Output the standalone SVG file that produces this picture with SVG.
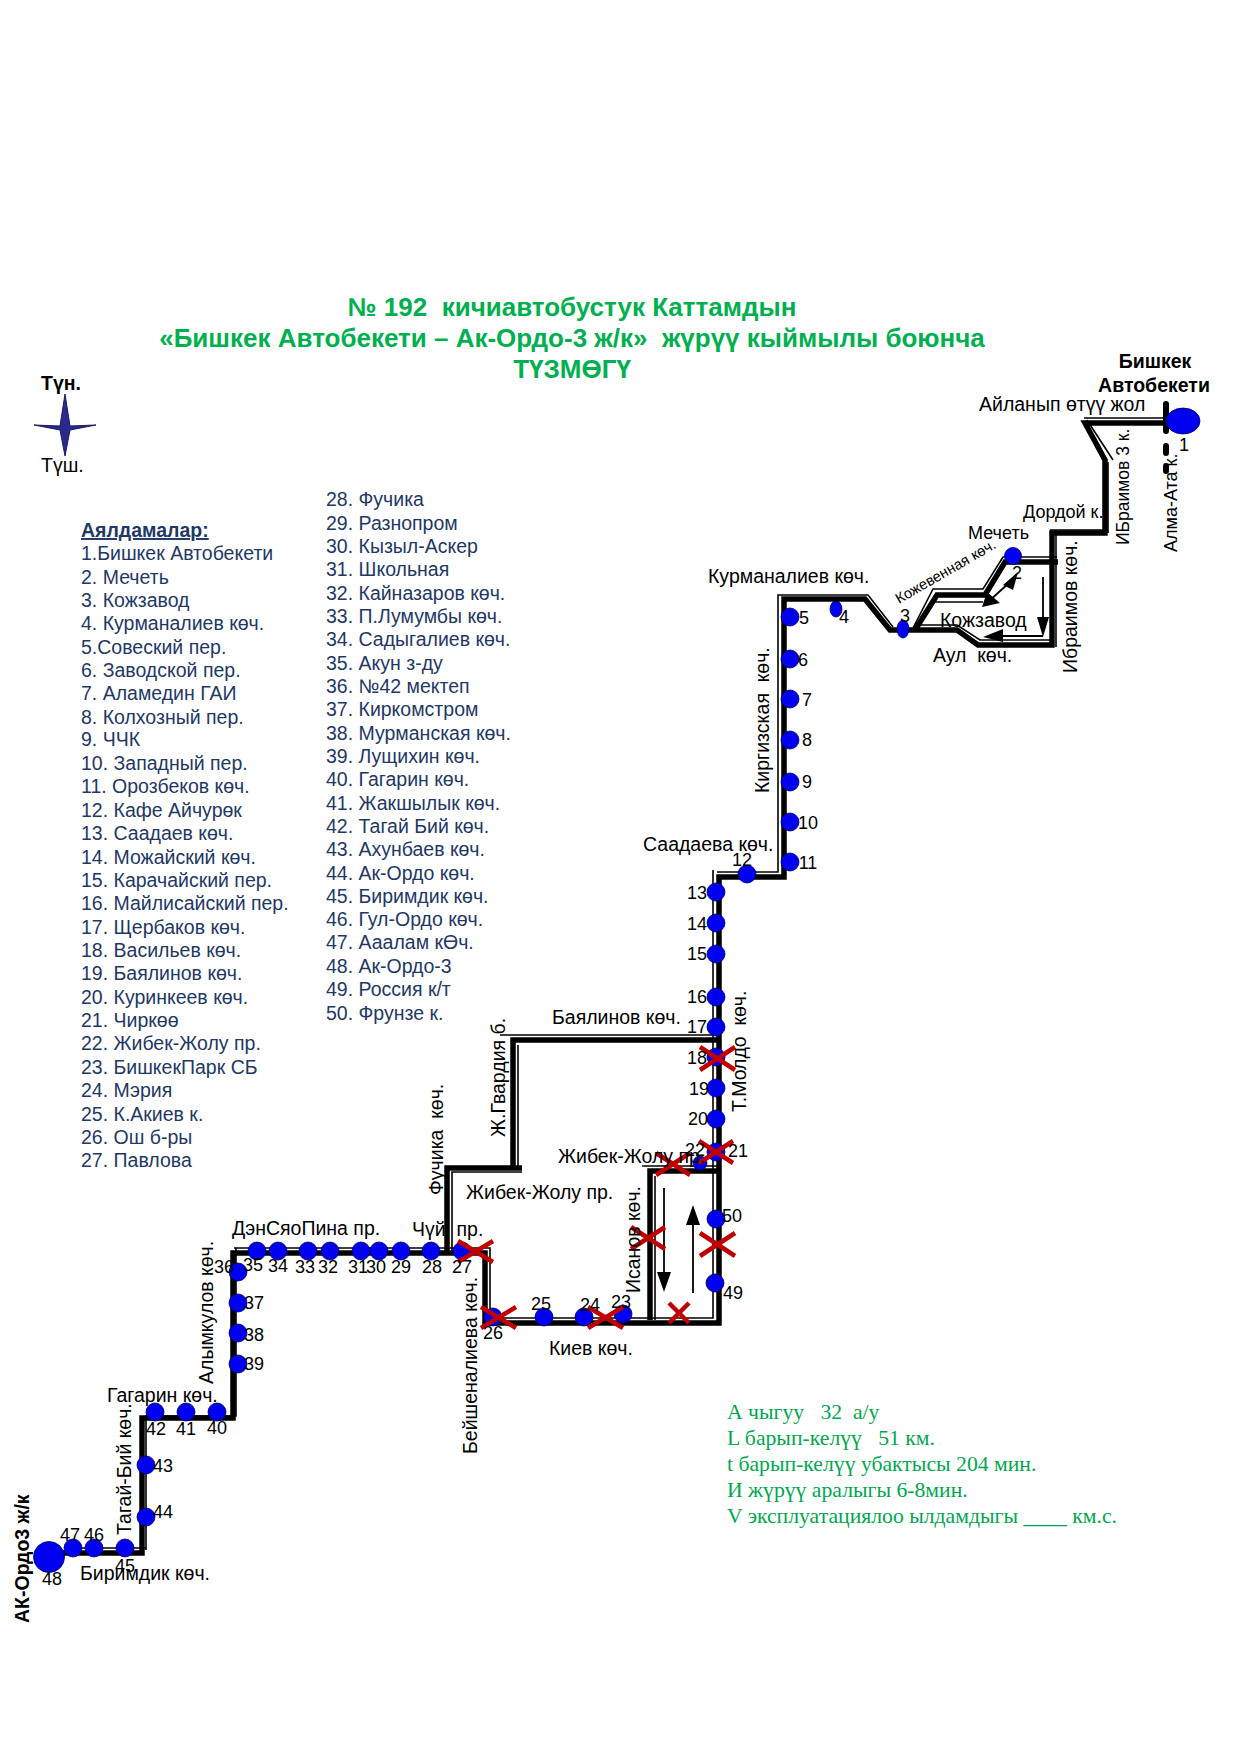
<svg xmlns="http://www.w3.org/2000/svg" width="1241" height="1754" viewBox="0 0 1241 1754">
<style>
text{font-family:"Liberation Sans",Arial,sans-serif;fill:#000;white-space:pre}
.t{font-size:26px;font-weight:bold;fill:#00b050;text-anchor:middle}
.l{font-size:19.5px;fill:#1f3864}
.g{font-family:"Liberation Serif","Times New Roman",serif;font-size:21.7px;fill:#00a651}
.s{font-size:19.5px}
.m{font-size:18px}
.n{font-size:18px;text-anchor:middle}
.b{font-size:19.5px;font-weight:bold}
.k{fill:none;stroke:#000;stroke-width:5.5;stroke-linejoin:miter}
.h{fill:none;stroke:#000;stroke-width:1.6}
.a{fill:none;stroke:#000;stroke-width:1.8}
.x{fill:none;stroke:#c00000;stroke-width:4.5}
.d{fill:#0000f0;stroke:#00005a;stroke-width:.8}
</style>
<g id="title">
<text class="t" x="572" y="316">№ 192  кичиавтобустук Каттамдын</text>
<text class="t" x="572" y="347">«Бишкек Автобекети – Ак-Ордо-3 ж/к»  жүрүү кыймылы боюнча</text>
<text class="t" x="572" y="378">ТҮЗМӨГҮ</text>
</g>
<g id="compass">
<path d="M65 394L70 426L96 425L70 430L65 456L60 430L34 425L60 426Z" fill="#2a2a8c" stroke="#1a1a60"/>
<text class="b" x="41" y="390">Түн.</text>
<text class="s" x="41" y="472">Түш.</text>
</g>
<g id="legend">
<text class="l" x="81" y="537" font-weight="bold" text-decoration="underline">Аялдамалар:</text>
<text class="l" x="81" y="560">1.Бишкек Автобекети</text>
<text class="l" x="81" y="584">2. Мечеть</text>
<text class="l" x="81" y="607">3. Кожзавод</text>
<text class="l" x="81" y="630">4. Курманалиев көч.</text>
<text class="l" x="81" y="654">5.Совеский пер.</text>
<text class="l" x="81" y="677">6. Заводской пер.</text>
<text class="l" x="81" y="700">7. Аламедин ГАИ</text>
<text class="l" x="81" y="724">8. Колхозный пер.</text>
<text class="l" x="81" y="746">9. ЧЧК</text>
<text class="l" x="81" y="770">10. Западный пер.</text>
<text class="l" x="81" y="793">11. Орозбеков көч.</text>
<text class="l" x="81" y="817">12. Кафе Айчурөк</text>
<text class="l" x="81" y="840">13. Саадаев көч.</text>
<text class="l" x="81" y="864">14. Можайский көч.</text>
<text class="l" x="81" y="887">15. Карачайский пер.</text>
<text class="l" x="81" y="910">16. Майлисайский пер.</text>
<text class="l" x="81" y="934">17. Щербаков көч.</text>
<text class="l" x="81" y="957">18. Васильев көч.</text>
<text class="l" x="81" y="980">19. Баялинов көч.</text>
<text class="l" x="81" y="1004">20. Куринкеев көч.</text>
<text class="l" x="81" y="1027">21. Чиркөө</text>
<text class="l" x="81" y="1050">22. Жибек-Жолу пр.</text>
<text class="l" x="81" y="1074">23. БишкекПарк СБ</text>
<text class="l" x="81" y="1097">24. Мэрия</text>
<text class="l" x="81" y="1121">25. К.Акиев к.</text>
<text class="l" x="81" y="1144">26. Ош б-ры</text>
<text class="l" x="81" y="1167">27. Павлова</text>
<text class="l" x="326" y="506">28. Фучика</text>
<text class="l" x="326" y="530">29. Разнопром</text>
<text class="l" x="326" y="553">30. Кызыл-Аскер</text>
<text class="l" x="326" y="576">31. Школьная</text>
<text class="l" x="326" y="600">32. Кайназаров көч.</text>
<text class="l" x="326" y="623">33. П.Лумумбы көч.</text>
<text class="l" x="326" y="646">34. Садыгалиев көч.</text>
<text class="l" x="326" y="670">35. Акун з-ду</text>
<text class="l" x="326" y="693">36. №42 мектеп</text>
<text class="l" x="326" y="716">37. Киркомстром</text>
<text class="l" x="326" y="740">38. Мурманская көч.</text>
<text class="l" x="326" y="763">39. Лущихин көч.</text>
<text class="l" x="326" y="786">40. Гагарин көч.</text>
<text class="l" x="326" y="810">41. Жакшылык көч.</text>
<text class="l" x="326" y="833">42. Тагай Бий көч.</text>
<text class="l" x="326" y="856">43. Ахунбаев көч.</text>
<text class="l" x="326" y="880">44. Ак-Ордо көч.</text>
<text class="l" x="326" y="903">45. Биримдик көч.</text>
<text class="l" x="326" y="926">46. Гул-Ордо көч.</text>
<text class="l" x="326" y="949">47. Ааалам кӨч.</text>
<text class="l" x="326" y="973">48. Ак-Ордо-3</text>
<text class="l" x="326" y="996">49. Россия к/т</text>
<text class="l" x="326" y="1020">50. Фрунзе к.</text>
</g>
<g id="stats">
<text class="g" x="727" y="1419">А чыгуу   32  а/у</text>
<text class="g" x="727" y="1445">L барып-келүү   51 км.</text>
<text class="g" x="727" y="1471">t барып-келүү убактысы 204 мин.</text>
<text class="g" x="727" y="1497">И жүрүү аралыгы 6-8мин.</text>
<text class="g" x="727" y="1523">V эксплуатациялоо ылдамдыгы ____ км.с.</text>
</g>
<g id="stop-4"><ellipse class="d" cx="836" cy="609" rx="6" ry="8"/></g>
<g id="connectors">
<path class="k" d="M1167 423H1085L1105 460V533H1052V645H978L957 630H890L865 599H784V877H719V1323H485V1253H233V1418H142V1553H63"/>
<path class="h" d="M1167 418H1084M1087 420L1113 460M1108 462V533M1108 530H1050M1056 530V647M1050 640H980L957 625H917M893 627L868 595H778V872H717M713 870V1318H487M490 1318V1248H234M236 1248V1416H145M146 1416V1550M146 1548H64"/>
<path class="k" d="M915 630L937 595H985L1005 562H1058"/>
<path class="h" d="M912 630L933 589H983L1003 557H1057M935 602H983"/>
<path class="k" d="M447 1253V1168H522M513 1168V1040H718M650 1320V1171H718"/>
<path class="h" d="M452 1253V1172H522M518 1168V1045M500 1035H718M655 1320V1176M642 1166H718"/>
<path d="M1166 404V431M1166 446V453M1166 466V471" fill="none" stroke="#000" stroke-width="6" stroke-linecap="round"/>
<path class="a" d="M664 1188V1275M693 1293V1222M1043 577V620M1043 636H1003M988 602L1010 582"/>
<path d="M657 1272H671L664 1292ZM686 1225H700L693 1205ZM1037 617H1049L1043 637ZM1003 629V642L983 637ZM982 607L1000 603 987 592ZM1018 572L1003 585 1013 590Z" fill="#000"/>
</g>
<g id="stops">
<g id="stop-1"><ellipse class="d" cx="1183" cy="421" rx="17" ry="13"/></g>
<g id="stop-2"><circle class="d" cx="1013" cy="556" r="8.5"/></g>
<g id="stop-3"><ellipse class="d" cx="903" cy="629" rx="6" ry="9"/></g>
<g id="stop-5"><circle class="d" cx="790" cy="617" r="9"/></g>
<g id="stop-6"><circle class="d" cx="790" cy="659" r="9"/></g>
<g id="stop-7"><circle class="d" cx="790" cy="699" r="9"/></g>
<g id="stop-8"><circle class="d" cx="790" cy="740" r="9"/></g>
<g id="stop-9"><circle class="d" cx="790" cy="782" r="9"/></g>
<g id="stop-10"><circle class="d" cx="790" cy="822" r="9"/></g>
<g id="stop-11"><circle class="d" cx="790" cy="862" r="9"/></g>
<g id="stop-12"><circle class="d" cx="747" cy="874" r="9"/></g>
<g id="stop-13"><circle class="d" cx="716" cy="892" r="9"/></g>
<g id="stop-14"><circle class="d" cx="716" cy="923" r="9"/></g>
<g id="stop-15"><circle class="d" cx="716" cy="954" r="9"/></g>
<g id="stop-16"><circle class="d" cx="716" cy="997" r="9"/></g>
<g id="stop-17"><circle class="d" cx="716" cy="1027" r="9"/></g>
<g id="stop-18"><circle class="d" cx="716" cy="1057" r="9"/></g>
<g id="stop-19"><circle class="d" cx="716" cy="1088" r="9"/></g>
<g id="stop-20"><circle class="d" cx="716" cy="1119" r="9"/></g>
<g id="stop-21"><circle class="d" cx="716" cy="1152" r="9"/></g>
<g id="stop-22"><circle class="d" cx="700" cy="1163" r="7"/></g>
<g id="stop-23"><circle class="d" cx="623" cy="1314" r="9"/></g>
<g id="stop-24"><circle class="d" cx="584" cy="1317" r="9"/></g>
<g id="stop-25"><circle class="d" cx="544" cy="1317" r="9"/></g>
<g id="stop-26"><circle class="d" cx="493" cy="1317" r="9"/></g>
<g id="stop-27"><circle class="d" cx="462" cy="1251" r="9"/></g>
<g id="stop-28"><circle class="d" cx="431" cy="1251" r="9"/></g>
<g id="stop-29"><circle class="d" cx="401" cy="1251" r="9"/></g>
<g id="stop-30"><circle class="d" cx="379" cy="1251" r="9"/></g>
<g id="stop-31"><circle class="d" cx="361" cy="1251" r="9"/></g>
<g id="stop-32"><circle class="d" cx="330" cy="1251" r="9"/></g>
<g id="stop-33"><circle class="d" cx="308" cy="1251" r="9"/></g>
<g id="stop-34"><circle class="d" cx="278" cy="1251" r="9"/></g>
<g id="stop-35"><circle class="d" cx="257" cy="1251" r="9"/></g>
<g id="stop-36"><circle class="d" cx="238" cy="1272" r="9"/></g>
<g id="stop-37"><circle class="d" cx="238" cy="1303" r="9"/></g>
<g id="stop-38"><circle class="d" cx="238" cy="1333" r="9"/></g>
<g id="stop-39"><circle class="d" cx="238" cy="1364" r="9"/></g>
<g id="stop-40"><circle class="d" cx="217" cy="1412" r="9"/></g>
<g id="stop-41"><circle class="d" cx="186" cy="1412" r="9"/></g>
<g id="stop-42"><circle class="d" cx="155" cy="1412" r="9"/></g>
<g id="stop-43"><circle class="d" cx="146" cy="1465" r="9"/></g>
<g id="stop-44"><circle class="d" cx="146" cy="1517" r="9"/></g>
<g id="stop-45"><circle class="d" cx="125" cy="1548" r="9"/></g>
<g id="stop-46"><circle class="d" cx="94" cy="1548" r="9"/></g>
<g id="stop-47"><circle class="d" cx="73" cy="1548" r="9"/></g>
<g id="stop-48"><circle class="d" cx="49" cy="1557" r="15.5"/></g>
<g id="stop-49"><circle class="d" cx="715" cy="1283" r="9"/></g>
<g id="stop-50"><circle class="d" cx="716" cy="1219" r="9"/></g>
</g>
<g id="closures">
<path class="x" d="M700 1047L735 1070M735 1047L700 1070"/>
<path class="x" d="M699 1141L733 1163M733 1141L699 1163"/>
<path class="x" d="M656 1153L690 1175M690 1153L656 1175"/>
<path class="x" d="M631 1227L665 1249M665 1227L631 1249"/>
<path class="x" d="M700 1233L735 1256M735 1233L700 1256"/>
<path class="x" d="M669 1303L689 1323M689 1303L669 1323"/>
<path class="x" d="M588 1307L623 1328M623 1307L588 1328"/>
<path class="x" d="M481 1307L516 1328M516 1307L481 1328"/>
<path class="x" d="M458 1241L493 1262M493 1241L458 1262"/>
</g>
<g id="labels">
<text class="b" x="1155" y="368" text-anchor="middle">Бишкек</text>
<text class="b" x="1154" y="392" text-anchor="middle">Автобекети</text>
<text class="s" x="979" y="411">Айланып өтүү жол</text>
<text class="m" x="1023" y="518">Дордой к.</text>
<text class="m" x="968" y="539">Мечеть</text>
<text class="s" x="940" y="627">Кожзавод</text>
<text class="s" x="933" y="662">Аул  көч.</text>
<text class="s" x="708" y="583">Курманалиев көч.</text>
<text class="s" x="643" y="851">Саадаева көч.</text>
<text class="s" x="552" y="1024">Баялинов көч.</text>
<text class="s" x="558" y="1163">Жибек-Жолу пр.</text>
<text class="s" x="466" y="1199">Жибек-Жолу пр.</text>
<text class="s" x="549" y="1355">Киев көч.</text>
<text class="s" x="232" y="1235">ДэнСяоПина пр.</text>
<text class="s" x="412" y="1236">Чүй  пр.</text>
<text class="s" x="107" y="1402">Гагарин көч.</text>
<text class="s" x="80" y="1580">Биримдик көч.</text>
<text font-size="14.7" transform="translate(899 604) rotate(-30)">Кожевенная көч.</text>
<text class="m" font-size="17.5" style="font-size:17.5px" transform="translate(1129 545) rotate(-90)">ИБраимов 3 к.</text>
<text class="m" transform="translate(1177 552) rotate(-90)">Алма-Ата к.</text>
<text class="s" transform="translate(1077 673) rotate(-90)">Ибраимов көч.</text>
<text class="s" transform="translate(769 793) rotate(-90)">Киргизская  көч.</text>
<text class="s" transform="translate(746 1112) rotate(-90)">Т.Молдо  көч.</text>
<text class="s" transform="translate(505 1137) rotate(-90)">Ж.Гвардия б.</text>
<text class="s" transform="translate(443 1195) rotate(-90)">Фучика  көч.</text>
<text class="s" transform="translate(640 1293) rotate(-90)">Исанов көч.</text>
<text class="s" transform="translate(477 1454) rotate(-90)">Бейшеналиева көч.</text>
<text class="s" transform="translate(213 1384) rotate(-90)">Алымкулов көч.</text>
<text class="s" transform="translate(131 1535) rotate(-90)">Тагай-Бий көч.</text>
<text class="b" transform="translate(29 1623) rotate(-90)">АК-Ордо3 ж/к</text>
</g>
<g id="numbers">
<text class="n" x="1184" y="451">1</text><text class="n" x="1017" y="579">2</text><text class="n" x="905" y="622">3</text><text class="n" x="844" y="623">4</text>
<text class="n" x="804" y="624">5</text><text class="n" x="803" y="666">6</text><text class="n" x="807" y="706">7</text><text class="n" x="807" y="746">8</text><text class="n" x="807" y="788">9</text><text class="n" x="808" y="829">10</text><text class="n" x="808" y="869">11</text><text class="n" x="742" y="866">12</text>
<text class="n" x="697" y="899">13</text><text class="n" x="697" y="930">14</text><text class="n" x="697" y="960">15</text><text class="n" x="697" y="1003">16</text><text class="n" x="697" y="1033">17</text><text class="n" x="697" y="1064">18</text><text class="n" x="699" y="1095">19</text><text class="n" x="698" y="1125">20</text><text class="n" x="738" y="1157">21</text><text class="n" x="695" y="1156">22</text>
<text class="n" x="621" y="1308">23</text><text class="n" x="590" y="1311">24</text><text class="n" x="541" y="1310">25</text><text class="n" x="493" y="1339">26</text><text class="n" x="462" y="1273">27</text><text class="n" x="432" y="1273">28</text><text class="n" x="401" y="1273">29</text>
<text class="n" x="376" y="1273">30</text><text class="n" x="358" y="1273">31</text><text class="n" x="328" y="1273">32</text><text class="n" x="305" y="1273">33</text><text class="n" x="278" y="1272">34</text><text class="n" x="253" y="1271">35</text><text class="n" x="224" y="1273">36</text>
<text class="n" x="254" y="1309">37</text><text class="n" x="254" y="1341">38</text><text class="n" x="254" y="1370">39</text><text class="n" x="217" y="1434">40</text><text class="n" x="186" y="1435">41</text><text class="n" x="156" y="1435">42</text><text class="n" x="163" y="1472">43</text><text class="n" x="163" y="1518">44</text>
<text class="n" x="125" y="1572">45</text><text class="n" x="94" y="1541">46</text><text class="n" x="70" y="1541">47</text><text class="n" x="52" y="1585">48</text><text class="n" x="733" y="1299">49</text><text class="n" x="732" y="1222">50</text>
</g>
</svg>
